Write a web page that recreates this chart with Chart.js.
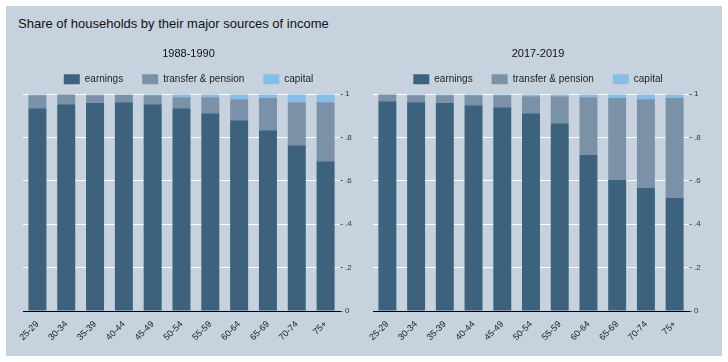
<!DOCTYPE html>
<html>
<head>
<meta charset="utf-8">
<script src="https://cdn.jsdelivr.net/npm/chart.js@4.4.1/dist/chart.umd.min.js"></script>
<style>
  html, body { margin: 0; padding: 0; background: #fff; }
  #frame { position: relative; width: 728px; height: 362px; overflow: hidden; }
  #panel { position: absolute; left: 6px; top: 6px; width: 716px; height: 350px; background: #C6D3DF; }
  #main-title { position: absolute; left: 18px; top: 16px; font: 13px "Liberation Sans", Arial, sans-serif; line-height: 15px; color: #111; }
  canvas { position: absolute; top: 37px; }
  #chart-left { left: 0; }
  #chart-right { left: 364px; }
</style>
</head>
<body>
<div id="frame">
  <div id="panel"></div>
  <div id="main-title">Share of households by their major sources of income</div>
  <canvas id="chart-left" width="364" height="304"></canvas>
  <canvas id="chart-right" width="364" height="304"></canvas>
</div>
<script>
// Data
let ageGroups = ["25-29", "30-34", "35-39", "40-44", "45-49", "50-54", "55-59", "60-64", "65-69", "70-74", "75+"];
let seriesNames = ["earnings", "transfer & pension", "capital"];
let periods = ["1988-1990", "2017-2019"];

let earnings1988 = [0.935, 0.954, 0.959, 0.963, 0.954, 0.935, 0.912, 0.880, 0.834, 0.765, 0.691];
let transfer1988 = [0.060, 0.046, 0.036, 0.034, 0.041, 0.051, 0.074, 0.097, 0.148, 0.198, 0.272];
let capital1988  = [0.005, 0.000, 0.005, 0.003, 0.005, 0.014, 0.014, 0.023, 0.018, 0.037, 0.037];

let earnings2017 = [0.968, 0.963, 0.959, 0.949, 0.940, 0.912, 0.866, 0.719, 0.604, 0.567, 0.521];
let transfer2017 = [0.032, 0.032, 0.036, 0.046, 0.055, 0.079, 0.125, 0.267, 0.378, 0.410, 0.461];
let capital2017  = [0.000, 0.005, 0.005, 0.005, 0.005, 0.009, 0.009, 0.014, 0.018, 0.023, 0.018];

let yTickValues = [0, 0.2, 0.4, 0.6, 0.8, 1];
let yTickLabels = ["0", ".2", ".4", ".6", ".8", "1"];

// Styles
let colorPalette = ["#3D627D", "#7B91A8", "#86BEE8"];
let fontFamily = "'Liberation Sans', Arial, sans-serif";

function makeChart(canvasId, title, series, padLeft, padRight) {
  const ctx = document.getElementById(canvasId).getContext("2d");
  const datasets = series.map((values, i) => ({
    label: seriesNames[i],
    data: values,
    backgroundColor: colorPalette[i],
    borderWidth: 0,
    barPercentage: 0.625,
    categoryPercentage: 1.0,
  }));

  return new Chart(ctx, {
    type: "bar",
    data: { labels: ageGroups, datasets: datasets },
    options: {
      responsive: false,
      animation: false,
      layout: { padding: { left: padLeft, right: padRight, top: 0, bottom: 0 } },
      plugins: {
        title: {
          display: true,
          text: title,
          color: "#111",
          font: { family: fontFamily, size: 11, weight: "normal" },
          padding: { top: 10, bottom: -5 },
        },
        legend: {
          display: true,
          position: "top",
          labels: {
            boxWidth: 16,
            boxHeight: 10,
            padding: 19,
            color: "#222",
            font: { family: fontFamily, size: 10 },
          },
        },
        tooltip: { enabled: false },
      },
      scales: {
        x: {
          stacked: true,
          grid: { display: false },
          border: { display: true, color: "#000", width: 1 },
          ticks: {
            minRotation: 45,
            maxRotation: 45,
            autoSkip: false,
            padding: 0,
            color: "#1a1a1a",
            font: { family: fontFamily, size: 9 },
          },
          afterFit: (scale) => { scale.height = 30; },
        },
        y: {
          stacked: true,
          position: "right",
          min: 0,
          max: 1,
          afterBuildTicks: (scale) => {
            scale.ticks = yTickValues.map(v => ({ value: v }));
          },
          grid: {
            color: (c) => (c.tick && c.tick.value === 0 ? "rgba(0,0,0,0)" : "#ffffff"),
            lineWidth: 1,
            drawTicks: true,
            tickLength: 3,
            tickColor: "#6b7480",
          },
          border: { display: false },
          ticks: {
            padding: 2,
            color: "#333",
            font: { family: fontFamily, size: 8 },
            callback: (value) => {
              const idx = yTickValues.findIndex(v => Math.abs(v - value) < 1e-6);
              return idx >= 0 ? yTickLabels[idx] : "";
            },
          },
          afterFit: (scale) => { scale.width = 14; },
        },
      },
    },
  });
}

makeChart("chart-left", periods[0], [earnings1988, transfer1988, capital1988], 23, 10);
makeChart("chart-right", periods[1], [earnings2017, transfer2017, capital2017], 9, 25);
</script>
</body>
</html>
